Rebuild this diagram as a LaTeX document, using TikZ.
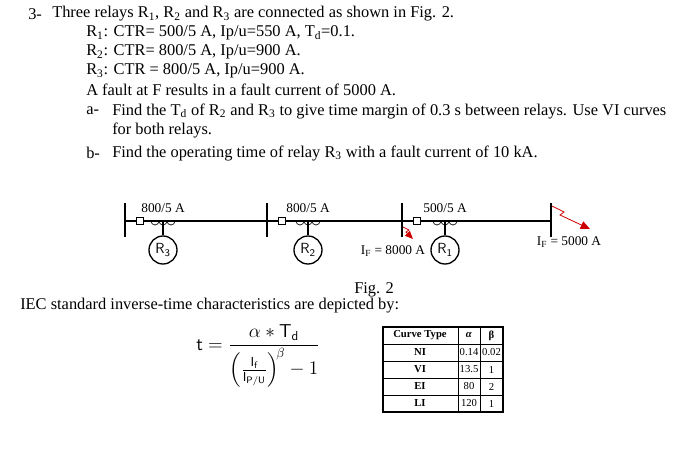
\documentclass[tikz,border=0pt]{standalone}
\usepackage{fontspec}
\setmainfont{Liberation Serif}
\usepackage{amsmath}
\usetikzlibrary{arrows.meta}
\begin{document}
\begin{tikzpicture}[x=0.75pt,y=-0.75pt,
  txt/.style={anchor=west,inner sep=0pt,font=\fontsize{12.3}{14}\selectfont},
  sm/.style={inner sep=0pt,font=\fontsize{10}{12}\selectfont},
  bus/.style={line width=1.2pt},
  relay/.style={circle,draw,line width=1pt,minimum size=21pt,inner sep=0pt,font=\fontsize{11}{12}\sffamily\selectfont},
  brk/.style={draw,fill=white,minimum size=5pt,inner sep=0pt},
  flt/.style={red!80!black,line width=0.6pt},
  cell/.style={font=\fontsize{8}{10}\selectfont,inner sep=0pt}]
\useasboundingbox (0,0) rectangle (700,464);
% text
\node[txt] (n3) at (28,14) {3-};
\node[txt] (t1) at (52,14) {Three relays R\textsubscript{1}, R\textsubscript{2} and R\textsubscript{3} are connected as shown in Fig. 2.};
\node[txt] (t2) at (86,33) {R\textsubscript{1}: CTR= 500/5 A, Ip/u=550 A, T\textsubscript{d}=0.1.};
\node[txt] (t3) at (86,52) {R\textsubscript{2}: CTR= 800/5 A, Ip/u=900 A.};
\node[txt] (t4) at (86,71) {R\textsubscript{3}: CTR = 800/5 A, Ip/u=900 A.};
\node[txt] (t5) at (86,90) {A fault at F results in a fault current of 5000 A.};
\node[txt] (ta) at (86,111) {a-};
\node[txt] (ta1) at (112,111) {Find the T\textsubscript{d} of R\textsubscript{2} and R\textsubscript{3} to give time margin of 0.3 s between relays. Use VI curves};
\node[txt] (ta2) at (112,130) {for both relays.};
\node[txt] (tb) at (86,153) {b-};
\node[txt] (tb1) at (112,153) {Find the operating time of relay R\textsubscript{3} with a fault current of 10 kA.};
% buses
\coordinate (L) at (125,221); \coordinate (R) at (551,221);
\draw[line width=0.9pt] (L) -- (R);
\foreach \x/\n in {125/b1,267/b2,402/b3,551/b4}{
  \draw[bus] (\x,203) -- (\x,237);}
\foreach \x/\c/\r/\lab/\ri in {140/163/r3/800\slash5 A/3,282/308/r2/800\slash5 A/2,417/445/r1/500\slash5 A/1}{
  \node[brk] at (\x,221) {};
  \draw[line width=0.5pt] (\c-12,221) arc (180:0:4) arc (180:0:4) arc (180:0:4);
  \node[relay] (\r) at (\c,250) {R\textsubscript{\ri}};
  \draw[line width=0.8pt] (\c,221) -- (\r);
  \node[sm] at (\c,208) {\lab};
}
\node[sm] (if1) at (393,251) {I\textsubscript{F} = 8000 A};
\node[sm] (if2) at (569,242) {I\textsubscript{F} = 5000 A};
\draw[flt,-{Triangle[length=6pt,width=5pt]}] (403,227) -- (409,230) -- (406,232) -- (413,239);
\draw[flt,-{Triangle[length=7pt,width=6pt]}] (552,206) -- (564,212) -- (560,215) -- (590,229);
% fig caption
\node[txt] (fig) at (354,290) {Fig. 2};
\node[txt] (iec) at (20,306) {IEC standard inverse-time characteristics are depicted by:};
% formula
\node[anchor=west,inner sep=0pt,font=\fontsize{14}{16}\sffamily\selectfont] (f) at (196,356)
 {$\mathsf{t}=\dfrac{\alpha * \mathsf{T_d}}{\left(\frac{\mathsf{I_f}}{\mathsf{I_{P/U}}}\right)^{\!\beta}-1}$};
% table
\draw[line width=0.8pt] (383,327) rectangle (503,412);
\foreach \y in {344,361,378,395} \draw[line width=0.5pt] (383,\y) -- (503,\y);
\draw[line width=0.5pt] (458,327) -- (458,412) (480,327) -- (480,412);
\node[cell] at (420,335.5) {\textbf{Curve Type}};
\node[cell] at (469,335.5) {\textbf{\textit{α}}};
\node[cell] at (491.5,335.5) {\textbf{β}};
\foreach \y/\a/\b/\c in {352.5/NI/0.14/0.02,369.5/VI/13.5/1,386.5/EI/80/2,403.5/LI/120/1}{
  \node[cell] at (420,\y) {\textbf{\a}};
  \node[cell] at (469,\y) {\b};
  \node[cell] at (491.5,\y) {\c};}
\end{tikzpicture}
\end{document}
